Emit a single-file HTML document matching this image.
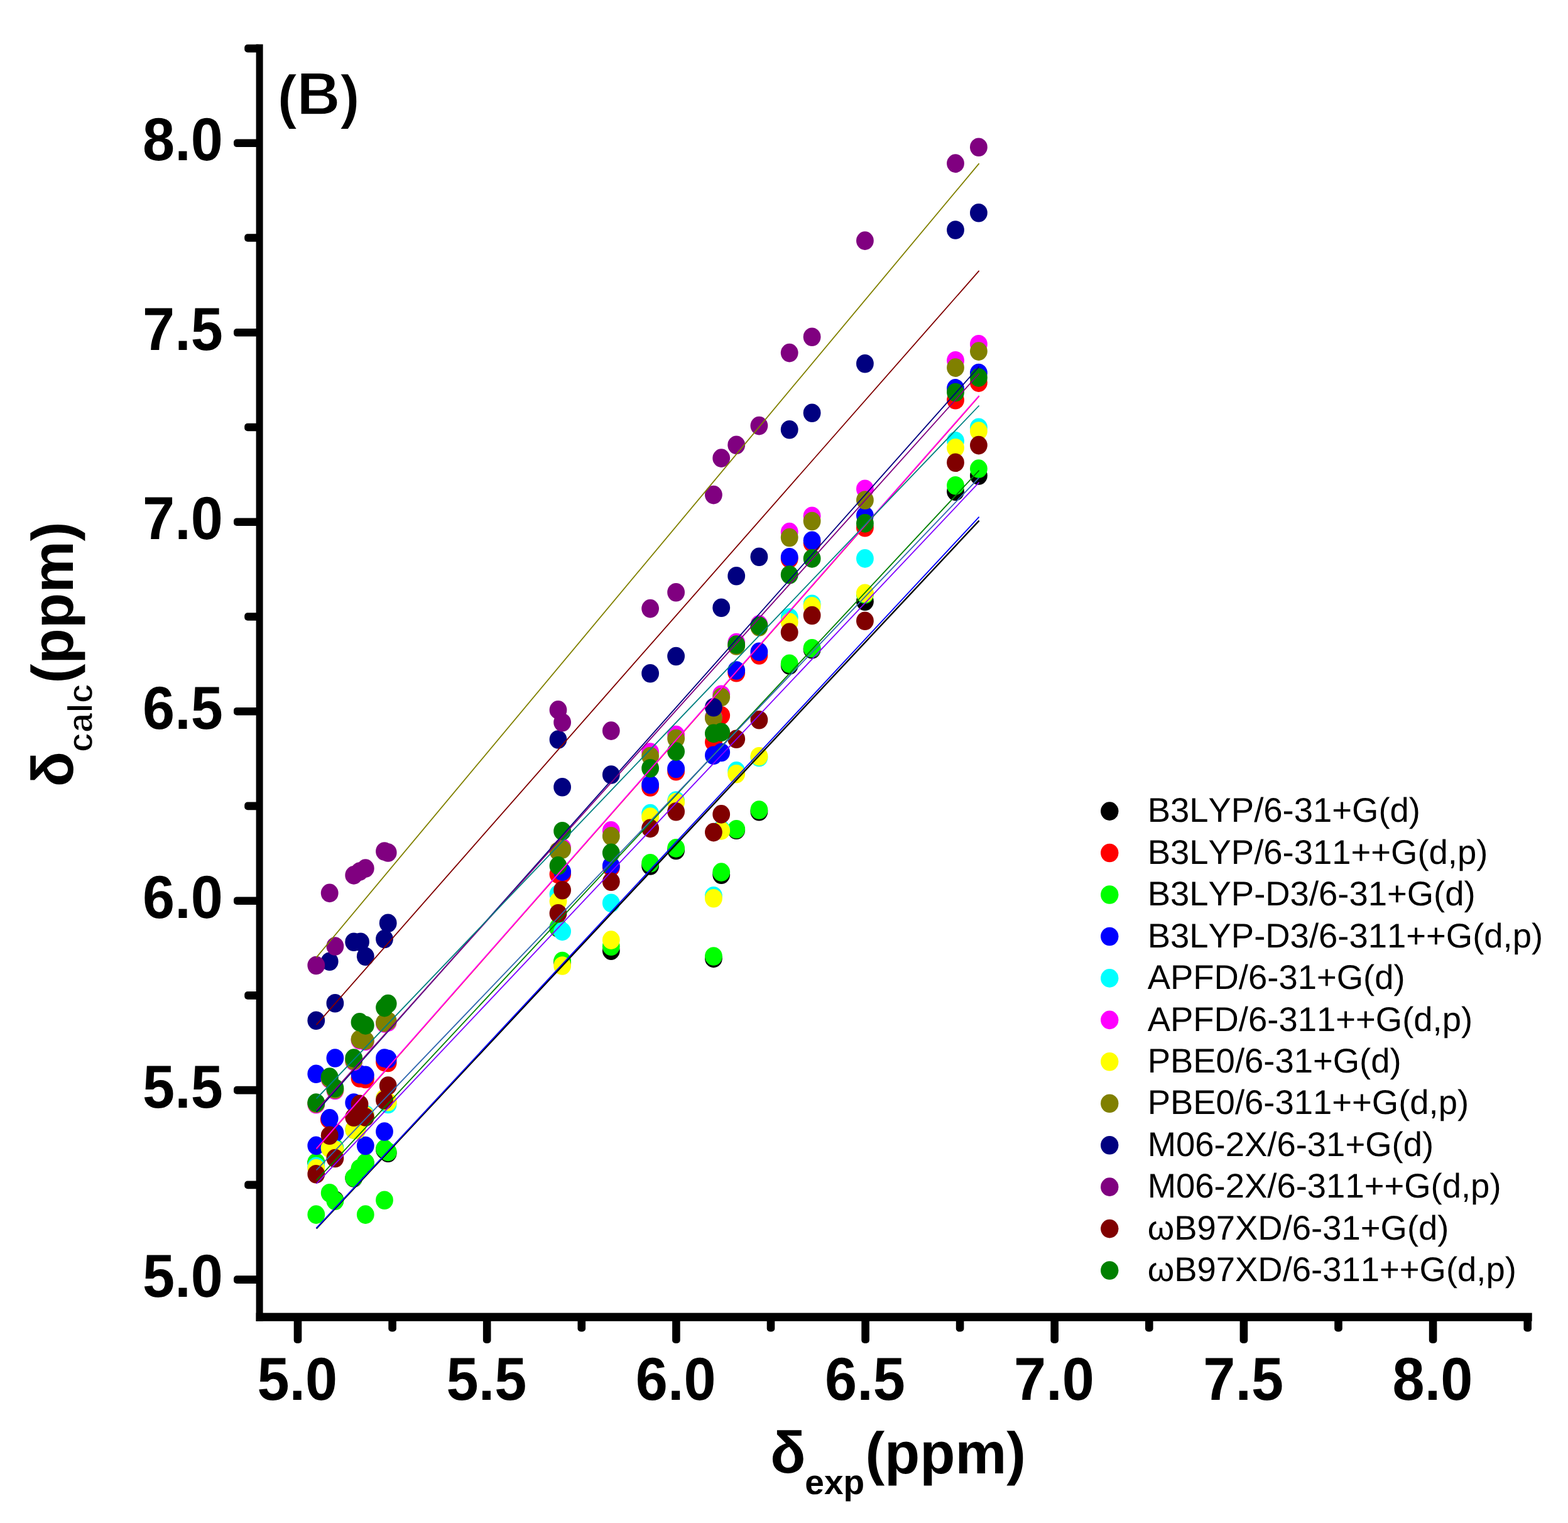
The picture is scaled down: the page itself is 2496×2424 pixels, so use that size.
<!DOCTYPE html>
<html lang="en">
<head>
<meta charset="utf-8">
<title>Calculated vs experimental chemical shifts (B)</title>
<style>
html,body{margin:0;padding:0;background:#fff;}
body{width:2496px;height:2424px;overflow:hidden;}
svg{display:block;}
.b{font-family:"Liberation Sans", sans-serif;font-weight:700;fill:#000;}
.r{font-family:"Liberation Sans", sans-serif;font-weight:400;fill:#000;}
text{font-kerning:none;text-rendering:geometricPrecision;}
</style>
</head>
<body>
<svg width="2496" height="2424" viewBox="0 0 2496 2424" role="img" aria-label="Scatter plot of calculated versus experimental chemical shifts, panel B">
<rect x="0" y="0" width="2496" height="2424" fill="#ffffff"/>
<g id="points">
<g fill="#000000"><ellipse cx="503.3" cy="1850.5" rx="13.9" ry="14.8"/><ellipse cx="533.4" cy="1910" rx="13.9" ry="14.8"/><ellipse cx="563.2" cy="1875" rx="13.9" ry="14.8"/><ellipse cx="572.5" cy="1861.3" rx="13.9" ry="14.8"/><ellipse cx="581.8" cy="1851" rx="13.9" ry="14.8"/><ellipse cx="612" cy="1830" rx="13.9" ry="14.8"/><ellipse cx="617.7" cy="1835.3" rx="13.9" ry="14.8"/><ellipse cx="888.5" cy="1477" rx="13.9" ry="14.8"/><ellipse cx="895.1" cy="1531" rx="13.9" ry="14.8"/><ellipse cx="972.8" cy="1513.1" rx="13.9" ry="14.8"/><ellipse cx="1035.1" cy="1378" rx="13.9" ry="14.8"/><ellipse cx="1076.1" cy="1353.5" rx="13.9" ry="14.8"/><ellipse cx="1135.9" cy="1525.4" rx="13.9" ry="14.8"/><ellipse cx="1148.2" cy="1392.2" rx="13.9" ry="14.8"/><ellipse cx="1172.2" cy="1321.2" rx="13.9" ry="14.8"/><ellipse cx="1208.4" cy="1291.8" rx="13.9" ry="14.8"/><ellipse cx="1256.7" cy="1059" rx="13.9" ry="14.8"/><ellipse cx="1292.6" cy="1033.8" rx="13.9" ry="14.8"/><ellipse cx="1376.9" cy="957.2" rx="13.9" ry="14.8"/><ellipse cx="1521" cy="782.3" rx="13.9" ry="14.8"/><ellipse cx="1557.9" cy="757" rx="13.9" ry="14.8"/></g>
<g fill="#ff0000"><ellipse cx="523.7" cy="1781.5" rx="13.9" ry="14.8"/><ellipse cx="572.5" cy="1716" rx="13.9" ry="14.8"/><ellipse cx="581.8" cy="1717.5" rx="13.9" ry="14.8"/><ellipse cx="612" cy="1690.5" rx="13.9" ry="14.8"/><ellipse cx="617.7" cy="1691.5" rx="13.9" ry="14.8"/><ellipse cx="888.5" cy="1391.5" rx="13.9" ry="14.8"/><ellipse cx="895.1" cy="1391.5" rx="13.9" ry="14.8"/><ellipse cx="972.8" cy="1380.6" rx="13.9" ry="14.8"/><ellipse cx="1035.1" cy="1253" rx="13.9" ry="14.8"/><ellipse cx="1076.1" cy="1227.8" rx="13.9" ry="14.8"/><ellipse cx="1135.9" cy="1181.1" rx="13.9" ry="14.8"/><ellipse cx="1148.2" cy="1138.8" rx="13.9" ry="14.8"/><ellipse cx="1172.2" cy="1070.8" rx="13.9" ry="14.8"/><ellipse cx="1208.4" cy="1043" rx="13.9" ry="14.8"/><ellipse cx="1256.7" cy="889.6" rx="13.9" ry="14.8"/><ellipse cx="1292.6" cy="864.3" rx="13.9" ry="14.8"/><ellipse cx="1376.9" cy="839.7" rx="13.9" ry="14.8"/><ellipse cx="1521" cy="636.7" rx="13.9" ry="14.8"/><ellipse cx="1557.9" cy="609.1" rx="13.9" ry="14.8"/></g>
<g fill="#00ff00"><ellipse cx="503.3" cy="1850" rx="13.9" ry="14.8"/><ellipse cx="503.3" cy="1933.1" rx="13.9" ry="14.8"/><ellipse cx="524.7" cy="1898.8" rx="13.9" ry="14.8"/><ellipse cx="533.4" cy="1827" rx="13.9" ry="14.8"/><ellipse cx="533.4" cy="1911.3" rx="13.9" ry="14.8"/><ellipse cx="563.2" cy="1874.4" rx="13.9" ry="14.8"/><ellipse cx="572.5" cy="1859.8" rx="13.9" ry="14.8"/><ellipse cx="581.8" cy="1850.4" rx="13.9" ry="14.8"/><ellipse cx="581.8" cy="1933.1" rx="13.9" ry="14.8"/><ellipse cx="612" cy="1828.4" rx="13.9" ry="14.8"/><ellipse cx="612" cy="1910.3" rx="13.9" ry="14.8"/><ellipse cx="617.7" cy="1833.4" rx="13.9" ry="14.8"/><ellipse cx="888.5" cy="1476" rx="13.9" ry="14.8"/><ellipse cx="895.1" cy="1529.5" rx="13.9" ry="14.8"/><ellipse cx="972.8" cy="1506.3" rx="13.9" ry="14.8"/><ellipse cx="1035.1" cy="1373.8" rx="13.9" ry="14.8"/><ellipse cx="1076.1" cy="1349.9" rx="13.9" ry="14.8"/><ellipse cx="1135.9" cy="1522" rx="13.9" ry="14.8"/><ellipse cx="1148.2" cy="1388.1" rx="13.9" ry="14.8"/><ellipse cx="1172.2" cy="1319.8" rx="13.9" ry="14.8"/><ellipse cx="1208.4" cy="1289" rx="13.9" ry="14.8"/><ellipse cx="1256.7" cy="1056.2" rx="13.9" ry="14.8"/><ellipse cx="1292.6" cy="1031.7" rx="13.9" ry="14.8"/><ellipse cx="1376.9" cy="946" rx="13.9" ry="14.8"/><ellipse cx="1521" cy="772.8" rx="13.9" ry="14.8"/><ellipse cx="1557.9" cy="746.1" rx="13.9" ry="14.8"/></g>
<g fill="#0000ff"><ellipse cx="503.3" cy="1709.3" rx="13.9" ry="14.8"/><ellipse cx="503.3" cy="1823.4" rx="13.9" ry="14.8"/><ellipse cx="524.7" cy="1779.9" rx="13.9" ry="14.8"/><ellipse cx="533.4" cy="1684" rx="13.9" ry="14.8"/><ellipse cx="533.4" cy="1803" rx="13.9" ry="14.8"/><ellipse cx="563.2" cy="1755" rx="13.9" ry="14.8"/><ellipse cx="572.5" cy="1709.8" rx="13.9" ry="14.8"/><ellipse cx="581.8" cy="1711.4" rx="13.9" ry="14.8"/><ellipse cx="581.8" cy="1823.5" rx="13.9" ry="14.8"/><ellipse cx="612" cy="1684.1" rx="13.9" ry="14.8"/><ellipse cx="612" cy="1801" rx="13.9" ry="14.8"/><ellipse cx="617.7" cy="1685.6" rx="13.9" ry="14.8"/><ellipse cx="895.1" cy="1387.4" rx="13.9" ry="14.8"/><ellipse cx="972.8" cy="1377.9" rx="13.9" ry="14.8"/><ellipse cx="1035.1" cy="1248.7" rx="13.9" ry="14.8"/><ellipse cx="1076.1" cy="1223.5" rx="13.9" ry="14.8"/><ellipse cx="1135.9" cy="1202.3" rx="13.9" ry="14.8"/><ellipse cx="1148.2" cy="1197.5" rx="13.9" ry="14.8"/><ellipse cx="1172.2" cy="1067" rx="13.9" ry="14.8"/><ellipse cx="1208.4" cy="1037.4" rx="13.9" ry="14.8"/><ellipse cx="1256.7" cy="886.8" rx="13.9" ry="14.8"/><ellipse cx="1292.6" cy="860.2" rx="13.9" ry="14.8"/><ellipse cx="1376.9" cy="820.6" rx="13.9" ry="14.8"/><ellipse cx="1521" cy="617.9" rx="13.9" ry="14.8"/><ellipse cx="1557.9" cy="593.5" rx="13.9" ry="14.8"/></g>
<g fill="#00ffff"><ellipse cx="503.3" cy="1856.2" rx="13.9" ry="14.8"/><ellipse cx="524.7" cy="1827" rx="13.9" ry="14.8"/><ellipse cx="533.4" cy="1829" rx="13.9" ry="14.8"/><ellipse cx="563.2" cy="1798" rx="13.9" ry="14.8"/><ellipse cx="568.5" cy="1798.5" rx="13.9" ry="14.8"/><ellipse cx="581.8" cy="1773.5" rx="13.9" ry="14.8"/><ellipse cx="612" cy="1748.5" rx="13.9" ry="14.8"/><ellipse cx="617.7" cy="1757.5" rx="13.9" ry="14.8"/><ellipse cx="888.5" cy="1423" rx="13.9" ry="14.8"/><ellipse cx="895.1" cy="1482.4" rx="13.9" ry="14.8"/><ellipse cx="972.8" cy="1437.3" rx="13.9" ry="14.8"/><ellipse cx="1035.1" cy="1294.6" rx="13.9" ry="14.8"/><ellipse cx="1076.1" cy="1274" rx="13.9" ry="14.8"/><ellipse cx="1135.9" cy="1425.7" rx="13.9" ry="14.8"/><ellipse cx="1148.2" cy="1320" rx="13.9" ry="14.8"/><ellipse cx="1172.2" cy="1226.9" rx="13.9" ry="14.8"/><ellipse cx="1208.4" cy="1205.5" rx="13.9" ry="14.8"/><ellipse cx="1256.7" cy="982.8" rx="13.9" ry="14.8"/><ellipse cx="1292.6" cy="961.3" rx="13.9" ry="14.8"/><ellipse cx="1376.9" cy="888.9" rx="13.9" ry="14.8"/><ellipse cx="1521" cy="701.7" rx="13.9" ry="14.8"/><ellipse cx="1557.9" cy="680.3" rx="13.9" ry="14.8"/></g>
<g fill="#ff00ff"><ellipse cx="503.3" cy="1757.7" rx="13.9" ry="14.8"/><ellipse cx="524.7" cy="1717.5" rx="13.9" ry="14.8"/><ellipse cx="533.4" cy="1735.5" rx="13.9" ry="14.8"/><ellipse cx="563.2" cy="1689.5" rx="13.9" ry="14.8"/><ellipse cx="572.5" cy="1655.5" rx="13.9" ry="14.8"/><ellipse cx="581.8" cy="1657.5" rx="13.9" ry="14.8"/><ellipse cx="612" cy="1629" rx="13.9" ry="14.8"/><ellipse cx="617.7" cy="1627" rx="13.9" ry="14.8"/><ellipse cx="888.5" cy="1354.7" rx="13.9" ry="14.8"/><ellipse cx="895.1" cy="1349" rx="13.9" ry="14.8"/><ellipse cx="972.8" cy="1321.9" rx="13.9" ry="14.8"/><ellipse cx="1035.1" cy="1197" rx="13.9" ry="14.8"/><ellipse cx="1076.1" cy="1169.6" rx="13.9" ry="14.8"/><ellipse cx="1135.9" cy="1141.5" rx="13.9" ry="14.8"/><ellipse cx="1148.2" cy="1105.3" rx="13.9" ry="14.8"/><ellipse cx="1172.2" cy="1022.6" rx="13.9" ry="14.8"/><ellipse cx="1208.4" cy="993.9" rx="13.9" ry="14.8"/><ellipse cx="1256.7" cy="846.6" rx="13.9" ry="14.8"/><ellipse cx="1292.6" cy="821.3" rx="13.9" ry="14.8"/><ellipse cx="1376.9" cy="778.3" rx="13.9" ry="14.8"/><ellipse cx="1521" cy="573.8" rx="13.9" ry="14.8"/><ellipse cx="1557.9" cy="547.8" rx="13.9" ry="14.8"/></g>
<g fill="#ffff00"><ellipse cx="503.3" cy="1859.6" rx="13.9" ry="14.8"/><ellipse cx="524.7" cy="1827.5" rx="13.9" ry="14.8"/><ellipse cx="533.4" cy="1830.4" rx="13.9" ry="14.8"/><ellipse cx="563.2" cy="1798" rx="13.9" ry="14.8"/><ellipse cx="568.5" cy="1798.5" rx="13.9" ry="14.8"/><ellipse cx="581.8" cy="1775.5" rx="13.9" ry="14.8"/><ellipse cx="612" cy="1748.3" rx="13.9" ry="14.8"/><ellipse cx="617.7" cy="1753.7" rx="13.9" ry="14.8"/><ellipse cx="888.5" cy="1434.6" rx="13.9" ry="14.8"/><ellipse cx="895.1" cy="1537" rx="13.9" ry="14.8"/><ellipse cx="972.8" cy="1496.1" rx="13.9" ry="14.8"/><ellipse cx="1035.1" cy="1300" rx="13.9" ry="14.8"/><ellipse cx="1076.1" cy="1276.7" rx="13.9" ry="14.8"/><ellipse cx="1135.9" cy="1429.8" rx="13.9" ry="14.8"/><ellipse cx="1148.2" cy="1321.9" rx="13.9" ry="14.8"/><ellipse cx="1172.2" cy="1231.7" rx="13.9" ry="14.8"/><ellipse cx="1208.4" cy="1203.8" rx="13.9" ry="14.8"/><ellipse cx="1256.7" cy="990.3" rx="13.9" ry="14.8"/><ellipse cx="1292.6" cy="964.8" rx="13.9" ry="14.8"/><ellipse cx="1376.9" cy="944.3" rx="13.9" ry="14.8"/><ellipse cx="1521" cy="712.7" rx="13.9" ry="14.8"/><ellipse cx="1557.9" cy="686.1" rx="13.9" ry="14.8"/></g>
<g fill="#808000"><ellipse cx="503.3" cy="1756.5" rx="13.9" ry="14.8"/><ellipse cx="524.7" cy="1716.5" rx="13.9" ry="14.8"/><ellipse cx="533.4" cy="1734" rx="13.9" ry="14.8"/><ellipse cx="563.2" cy="1688" rx="13.9" ry="14.8"/><ellipse cx="572.5" cy="1654.1" rx="13.9" ry="14.8"/><ellipse cx="581.8" cy="1656.1" rx="13.9" ry="14.8"/><ellipse cx="612" cy="1627.7" rx="13.9" ry="14.8"/><ellipse cx="617.7" cy="1625" rx="13.9" ry="14.8"/><ellipse cx="888.5" cy="1354.7" rx="13.9" ry="14.8"/><ellipse cx="895.1" cy="1352" rx="13.9" ry="14.8"/><ellipse cx="972.8" cy="1330.7" rx="13.9" ry="14.8"/><ellipse cx="1035.1" cy="1203.6" rx="13.9" ry="14.8"/><ellipse cx="1076.1" cy="1175.6" rx="13.9" ry="14.8"/><ellipse cx="1135.9" cy="1142.8" rx="13.9" ry="14.8"/><ellipse cx="1148.2" cy="1109.5" rx="13.9" ry="14.8"/><ellipse cx="1172.2" cy="1028" rx="13.9" ry="14.8"/><ellipse cx="1208.4" cy="998" rx="13.9" ry="14.8"/><ellipse cx="1256.7" cy="855.5" rx="13.9" ry="14.8"/><ellipse cx="1292.6" cy="829.5" rx="13.9" ry="14.8"/><ellipse cx="1376.9" cy="796" rx="13.9" ry="14.8"/><ellipse cx="1521" cy="585.1" rx="13.9" ry="14.8"/><ellipse cx="1557.9" cy="559.1" rx="13.9" ry="14.8"/></g>
<g fill="#000080"><ellipse cx="503.3" cy="1624.2" rx="13.9" ry="14.8"/><ellipse cx="524.7" cy="1530.2" rx="13.9" ry="14.8"/><ellipse cx="533.4" cy="1596.8" rx="13.9" ry="14.8"/><ellipse cx="563.2" cy="1499.3" rx="13.9" ry="14.8"/><ellipse cx="574" cy="1499.3" rx="13.9" ry="14.8"/><ellipse cx="581.8" cy="1522.3" rx="13.9" ry="14.8"/><ellipse cx="612" cy="1494.5" rx="13.9" ry="14.8"/><ellipse cx="617.7" cy="1469.2" rx="13.9" ry="14.8"/><ellipse cx="888.5" cy="1177" rx="13.9" ry="14.8"/><ellipse cx="895.1" cy="1252.8" rx="13.9" ry="14.8"/><ellipse cx="972.8" cy="1233" rx="13.9" ry="14.8"/><ellipse cx="1035.1" cy="1071.8" rx="13.9" ry="14.8"/><ellipse cx="1076.1" cy="1044.5" rx="13.9" ry="14.8"/><ellipse cx="1135.9" cy="1125.8" rx="13.9" ry="14.8"/><ellipse cx="1148.2" cy="967.3" rx="13.9" ry="14.8"/><ellipse cx="1172.2" cy="916.7" rx="13.9" ry="14.8"/><ellipse cx="1208.4" cy="886.3" rx="13.9" ry="14.8"/><ellipse cx="1256.7" cy="683.8" rx="13.9" ry="14.8"/><ellipse cx="1292.6" cy="657.2" rx="13.9" ry="14.8"/><ellipse cx="1376.9" cy="578.7" rx="13.9" ry="14.8"/><ellipse cx="1521" cy="366" rx="13.9" ry="14.8"/><ellipse cx="1557.9" cy="338.7" rx="13.9" ry="14.8"/></g>
<g fill="#800080"><ellipse cx="503.3" cy="1536.5" rx="13.9" ry="14.8"/><ellipse cx="524.7" cy="1421.4" rx="13.9" ry="14.8"/><ellipse cx="533.4" cy="1506" rx="13.9" ry="14.8"/><ellipse cx="563.2" cy="1392.9" rx="13.9" ry="14.8"/><ellipse cx="572.5" cy="1387" rx="13.9" ry="14.8"/><ellipse cx="581.8" cy="1382.1" rx="13.9" ry="14.8"/><ellipse cx="612" cy="1355" rx="13.9" ry="14.8"/><ellipse cx="617.7" cy="1357" rx="13.9" ry="14.8"/><ellipse cx="888.5" cy="1129.9" rx="13.9" ry="14.8"/><ellipse cx="895.1" cy="1149.7" rx="13.9" ry="14.8"/><ellipse cx="972.8" cy="1163.1" rx="13.9" ry="14.8"/><ellipse cx="1035.1" cy="968.6" rx="13.9" ry="14.8"/><ellipse cx="1076.1" cy="942.7" rx="13.9" ry="14.8"/><ellipse cx="1135.9" cy="787.6" rx="13.9" ry="14.8"/><ellipse cx="1148.2" cy="729.1" rx="13.9" ry="14.8"/><ellipse cx="1172.2" cy="708.3" rx="13.9" ry="14.8"/><ellipse cx="1208.4" cy="677.6" rx="13.9" ry="14.8"/><ellipse cx="1256.7" cy="561.6" rx="13.9" ry="14.8"/><ellipse cx="1292.6" cy="536.3" rx="13.9" ry="14.8"/><ellipse cx="1376.9" cy="383.1" rx="13.9" ry="14.8"/><ellipse cx="1521" cy="260.1" rx="13.9" ry="14.8"/><ellipse cx="1557.9" cy="234.2" rx="13.9" ry="14.8"/></g>
<g fill="#800000"><ellipse cx="503.3" cy="1868.7" rx="13.9" ry="14.8"/><ellipse cx="524.7" cy="1807.2" rx="13.9" ry="14.8"/><ellipse cx="533.4" cy="1843.5" rx="13.9" ry="14.8"/><ellipse cx="563.2" cy="1778.3" rx="13.9" ry="14.8"/><ellipse cx="572.5" cy="1757.4" rx="13.9" ry="14.8"/><ellipse cx="581.8" cy="1778" rx="13.9" ry="14.8"/><ellipse cx="612" cy="1751" rx="13.9" ry="14.8"/><ellipse cx="617.7" cy="1728" rx="13.9" ry="14.8"/><ellipse cx="888.5" cy="1453.7" rx="13.9" ry="14.8"/><ellipse cx="895.1" cy="1416.8" rx="13.9" ry="14.8"/><ellipse cx="972.8" cy="1403.2" rx="13.9" ry="14.8"/><ellipse cx="1035.1" cy="1318.4" rx="13.9" ry="14.8"/><ellipse cx="1076.1" cy="1291.8" rx="13.9" ry="14.8"/><ellipse cx="1135.9" cy="1324.6" rx="13.9" ry="14.8"/><ellipse cx="1148.2" cy="1295.9" rx="13.9" ry="14.8"/><ellipse cx="1172.2" cy="1176.3" rx="13.9" ry="14.8"/><ellipse cx="1208.4" cy="1145.7" rx="13.9" ry="14.8"/><ellipse cx="1256.7" cy="1006.4" rx="13.9" ry="14.8"/><ellipse cx="1292.6" cy="979.5" rx="13.9" ry="14.8"/><ellipse cx="1376.9" cy="988.3" rx="13.9" ry="14.8"/><ellipse cx="1521" cy="736.3" rx="13.9" ry="14.8"/><ellipse cx="1557.9" cy="708.6" rx="13.9" ry="14.8"/></g>
<g fill="#008000"><ellipse cx="503.3" cy="1755" rx="13.9" ry="14.8"/><ellipse cx="524.7" cy="1714.1" rx="13.9" ry="14.8"/><ellipse cx="533.4" cy="1731.7" rx="13.9" ry="14.8"/><ellipse cx="563.2" cy="1684.1" rx="13.9" ry="14.8"/><ellipse cx="572.5" cy="1626.9" rx="13.9" ry="14.8"/><ellipse cx="581.8" cy="1631.9" rx="13.9" ry="14.8"/><ellipse cx="612" cy="1603.6" rx="13.9" ry="14.8"/><ellipse cx="617.7" cy="1597.5" rx="13.9" ry="14.8"/><ellipse cx="888.5" cy="1377.9" rx="13.9" ry="14.8"/><ellipse cx="895.1" cy="1322.8" rx="13.9" ry="14.8"/><ellipse cx="972.8" cy="1357.4" rx="13.9" ry="14.8"/><ellipse cx="1035.1" cy="1222.8" rx="13.9" ry="14.8"/><ellipse cx="1076.1" cy="1196.1" rx="13.9" ry="14.8"/><ellipse cx="1135.9" cy="1167.4" rx="13.9" ry="14.8"/><ellipse cx="1148.2" cy="1165.4" rx="13.9" ry="14.8"/><ellipse cx="1172.2" cy="1026" rx="13.9" ry="14.8"/><ellipse cx="1208.4" cy="996" rx="13.9" ry="14.8"/><ellipse cx="1256.7" cy="914.8" rx="13.9" ry="14.8"/><ellipse cx="1292.6" cy="888.9" rx="13.9" ry="14.8"/><ellipse cx="1376.9" cy="832.9" rx="13.9" ry="14.8"/><ellipse cx="1521" cy="624.5" rx="13.9" ry="14.8"/><ellipse cx="1557.9" cy="600.9" rx="13.9" ry="14.8"/></g>
</g>
<g id="fits" fill="none" stroke-width="1.8" stroke-linecap="butt">
<line x1="503.6" y1="1955.4" x2="1558.6" y2="828.6" stroke="#000000" stroke-width="2.4"/>
<line x1="503.6" y1="1954.6" x2="1558.6" y2="822.7" stroke="#0000ff"/>
<line x1="503.6" y1="1828.9" x2="1558.6" y2="630.5" stroke="#ff0000"/>
<line x1="503.6" y1="1828.2" x2="1558.6" y2="629.8" stroke="#ff00ff"/>
<line x1="503.6" y1="1523.9" x2="1558.6" y2="260.1" stroke="#808000"/>
<line x1="503.6" y1="1631.2" x2="1558.6" y2="430.9" stroke="#800000"/>
<line x1="503.6" y1="1769.8" x2="1558.6" y2="583.5" stroke="#000080"/>
<line x1="503.6" y1="1767.3" x2="1558.6" y2="594.5" stroke="#800080"/>
<line x1="503.6" y1="1748.7" x2="1558.6" y2="645.5" stroke="#008080"/>
<line x1="503.6" y1="1878.7" x2="1558.6" y2="748.7" stroke="#008000"/>
<line x1="503.6" y1="1862.4" x2="1558.6" y2="760.2" stroke="#3068b0"/>
<line x1="503.6" y1="1884" x2="1558.6" y2="767.7" stroke="#8000ff"/>
</g>
<g id="axes" fill="#000">
<rect x="407.6" y="70.5" width="11.0" height="2032.3"/>
<rect x="407.6" y="2089.6" width="2031.1" height="13.2"/>
<rect x="372.0" y="2030.3" width="43.6" height="12.6" rx="5"/><rect x="467.7" y="2094.8" width="12.6" height="43.2" rx="5"/>
<rect x="389.2" y="1879.6" width="26.4" height="12.6" rx="5"/><rect x="618.3" y="2094.8" width="12.6" height="24.7" rx="5"/>
<rect x="372.0" y="1728.8" width="43.6" height="12.6" rx="5"/><rect x="768.9" y="2094.8" width="12.6" height="43.2" rx="5"/>
<rect x="389.2" y="1578.1" width="26.4" height="12.6" rx="5"/><rect x="919.5" y="2094.8" width="12.6" height="24.7" rx="5"/>
<rect x="372.0" y="1427.4" width="43.6" height="12.6" rx="5"/><rect x="1070.1" y="2094.8" width="12.6" height="43.2" rx="5"/>
<rect x="389.2" y="1276.6" width="26.4" height="12.6" rx="5"/><rect x="1220.7" y="2094.8" width="12.6" height="24.7" rx="5"/>
<rect x="372.0" y="1125.9" width="43.6" height="12.6" rx="5"/><rect x="1371.3" y="2094.8" width="12.6" height="43.2" rx="5"/>
<rect x="389.2" y="975.2" width="26.4" height="12.6" rx="5"/><rect x="1521.8" y="2094.8" width="12.6" height="24.7" rx="5"/>
<rect x="372.0" y="824.4" width="43.6" height="12.6" rx="5"/><rect x="1672.4" y="2094.8" width="12.6" height="43.2" rx="5"/>
<rect x="389.2" y="673.7" width="26.4" height="12.6" rx="5"/><rect x="1823.0" y="2094.8" width="12.6" height="24.7" rx="5"/>
<rect x="372.0" y="523.0" width="43.6" height="12.6" rx="5"/><rect x="1973.6" y="2094.8" width="12.6" height="43.2" rx="5"/>
<rect x="389.2" y="372.2" width="26.4" height="12.6" rx="5"/><rect x="2124.2" y="2094.8" width="12.6" height="24.7" rx="5"/>
<rect x="372.0" y="221.5" width="43.6" height="12.6" rx="5"/><rect x="2274.8" y="2094.8" width="12.6" height="43.2" rx="5"/>
<rect x="389.2" y="70.8" width="26.4" height="12.6" rx="5"/><rect x="2425.4" y="2094.8" width="12.6" height="24.7" rx="5"/>
</g>
<g id="yticks" class="b" font-size="96.5" text-anchor="end">
<text x="354.8" y="2064.1" textLength="127.8" lengthAdjust="spacingAndGlyphs">5.0</text><text x="354.8" y="1762.6" textLength="127.8" lengthAdjust="spacingAndGlyphs">5.5</text><text x="354.8" y="1461.2" textLength="127.8" lengthAdjust="spacingAndGlyphs">6.0</text><text x="354.8" y="1159.7" textLength="127.8" lengthAdjust="spacingAndGlyphs">6.5</text><text x="354.8" y="858.2" textLength="127.8" lengthAdjust="spacingAndGlyphs">7.0</text><text x="354.8" y="556.8" textLength="127.8" lengthAdjust="spacingAndGlyphs">7.5</text><text x="354.8" y="255.3" textLength="127.8" lengthAdjust="spacingAndGlyphs">8.0</text>
</g>
<g id="xticks" class="b" font-size="96.5" text-anchor="middle">
<text x="473.3" y="2227.5" textLength="127.8" lengthAdjust="spacingAndGlyphs">5.0</text><text x="774.5" y="2227.5" textLength="127.8" lengthAdjust="spacingAndGlyphs">5.5</text><text x="1075.7" y="2227.5" textLength="127.8" lengthAdjust="spacingAndGlyphs">6.0</text><text x="1376.9" y="2227.5" textLength="127.8" lengthAdjust="spacingAndGlyphs">6.5</text><text x="1678.0" y="2227.5" textLength="127.8" lengthAdjust="spacingAndGlyphs">7.0</text><text x="1979.2" y="2227.5" textLength="127.8" lengthAdjust="spacingAndGlyphs">7.5</text><text x="2280.4" y="2227.5" textLength="127.8" lengthAdjust="spacingAndGlyphs">8.0</text>
</g>
<text id="panel" class="b" stroke="#fff" stroke-width="1.4"><tspan x="441.4" y="185.7" font-size="94.5">(</tspan><tspan x="472.5" y="182.3" font-size="95.5">B</tspan><tspan x="541.2" y="185.7" font-size="94.5">)</tspan></text>
<text id="xtitle" class="b"><tspan x="1225.9" y="2344.4" font-size="93.5">δ</tspan><tspan x="1281.3" y="2377.6" font-size="55">exp</tspan><tspan x="1377.4" y="2344.8" font-size="93.4" textLength="255.6" lengthAdjust="spacingAndGlyphs">(ppm)</tspan></text>
<text id="ytitle" class="b" transform="translate(115.7 1252.5) rotate(-90)"><tspan x="0" y="0" font-size="93.5">δ</tspan><tspan x="55.2" y="31.2" font-size="56.2" stroke="#fff" stroke-width="1.6">calc</tspan><tspan x="164.9" y="0" font-size="93.4" textLength="257.3" lengthAdjust="spacingAndGlyphs">(ppm)</tspan></text>
<g id="legend">
<ellipse cx="1766.3" cy="1291.1" rx="14.2" ry="14.8" fill="#000000"/><text class="r" x="1826.7" y="1308.3" font-size="54.45">B3LYP/6-31+G(d)</text>
<ellipse cx="1766.3" cy="1357.55" rx="14.2" ry="14.8" fill="#ff0000"/><text class="r" x="1826.7" y="1374.75" font-size="54.45">B3LYP/6-311++G(d,p)</text>
<ellipse cx="1766.3" cy="1424" rx="14.2" ry="14.8" fill="#00ff00"/><text class="r" x="1826.7" y="1441.2" font-size="54.45">B3LYP-D3/6-31+G(d)</text>
<ellipse cx="1766.3" cy="1490.45" rx="14.2" ry="14.8" fill="#0000ff"/><text class="r" x="1826.7" y="1507.65" font-size="54.45">B3LYP-D3/6-311++G(d,p)</text>
<ellipse cx="1766.3" cy="1556.9" rx="14.2" ry="14.8" fill="#00ffff"/><text class="r" x="1826.7" y="1574.1" font-size="54.45">APFD/6-31+G(d)</text>
<ellipse cx="1766.3" cy="1623.35" rx="14.2" ry="14.8" fill="#ff00ff"/><text class="r" x="1826.7" y="1640.55" font-size="54.45">APFD/6-311++G(d,p)</text>
<ellipse cx="1766.3" cy="1689.8" rx="14.2" ry="14.8" fill="#ffff00"/><text class="r" x="1826.7" y="1707" font-size="54.45">PBE0/6-31+G(d)</text>
<ellipse cx="1766.3" cy="1756.25" rx="14.2" ry="14.8" fill="#808000"/><text class="r" x="1826.7" y="1773.45" font-size="54.45">PBE0/6-311++G(d,p)</text>
<ellipse cx="1766.3" cy="1822.7" rx="14.2" ry="14.8" fill="#000080"/><text class="r" x="1826.7" y="1839.9" font-size="54.45">M06-2X/6-31+G(d)</text>
<ellipse cx="1766.3" cy="1889.15" rx="14.2" ry="14.8" fill="#800080"/><text class="r" x="1826.7" y="1906.35" font-size="54.45">M06-2X/6-311++G(d,p)</text>
<ellipse cx="1766.3" cy="1955.6" rx="14.2" ry="14.8" fill="#800000"/><text class="r" x="1826.7" y="1972.8" font-size="54.45">ωB97XD/6-31+G(d)</text>
<ellipse cx="1766.3" cy="2022.05" rx="14.2" ry="14.8" fill="#008000"/><text class="r" x="1826.7" y="2039.25" font-size="54.45">ωB97XD/6-311++G(d,p)</text>
</g>
</svg>
</body>
</html>
